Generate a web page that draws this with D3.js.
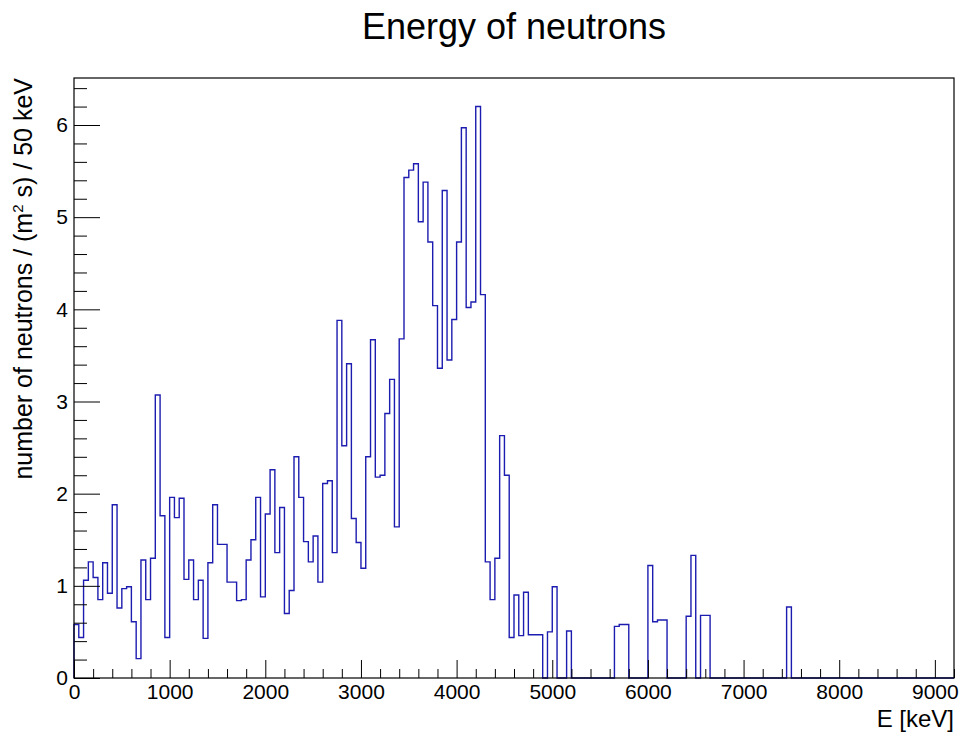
<!DOCTYPE html>
<html>
<head>
<meta charset="utf-8">
<script src="https://cdn.jsdelivr.net/npm/d3@7/dist/d3.min.js"></script>
<style>
  html, body { margin: 0; padding: 0; background: #ffffff; }
  svg { display: block; }
  text { font-family: "Liberation Sans", Arial, Helvetica, sans-serif; fill: #000; }
</style>
</head>
<body>
<svg id="chart" width="963" height="736"></svg>
<script>
// Neutron energy spectrum, 50 keV bins starting at 0 keV
const binWidth = 50;
const binCount = 184;
const counts = [
  0.58, 0.44, 1.06, 1.26, 1.09, 0.85, 1.25, 0.92, 1.88, 0.76,
  0.97, 0.99, 0.61, 0.21, 1.28, 0.85, 1.30, 3.07, 1.76, 0.44,
  1.96, 1.74, 1.95, 1.07, 1.28, 0.85, 1.06, 0.43, 1.25, 1.88,
  1.45, 1.45, 1.04, 1.04, 0.84, 0.85, 1.28, 1.50, 1.96, 0.88,
  1.78, 2.26, 1.36, 1.85, 0.70, 0.95, 2.40, 1.96, 1.48, 1.26,
  1.54, 1.04, 2.11, 2.14, 1.36, 3.88, 2.52, 3.41, 1.73, 1.47,
  1.19, 2.40, 3.67, 2.18, 2.20, 2.87, 3.24, 1.64, 3.68, 5.43,
  5.51, 5.58, 4.95, 5.38, 4.73, 4.04, 3.36, 5.29, 3.45, 3.89,
  4.73, 5.97, 4.02, 4.08, 6.20, 4.16, 1.26, 0.85, 1.30, 2.63,
  2.20, 0.44, 0.90, 0.46, 0.93, 0.47, 0.47, 0.47, 0.00, 0.50,
  0.99, 0.00, 0.00, 0.51, 0.00, 0.00, 0.00, 0.00, 0.00, 0.00,
  0.00, 0.00, 0.00, 0.56, 0.58, 0.58, 0.00, 0.00, 0.00, 0.00,
  1.22, 0.61, 0.63, 0.63, 0.00, 0.00, 0.00, 0.00, 0.67, 1.33,
  0.00, 0.68, 0.68, 0.00, 0.00, 0.00, 0.00, 0.00, 0.00, 0.00,
  0.00, 0.00, 0.00, 0.00, 0.00, 0.00, 0.00, 0.00, 0.00, 0.77,
  0.00, 0.00, 0.00, 0.00, 0.00, 0.00, 0.00, 0.00, 0.00, 0.00,
  0.00, 0.00, 0.00, 0.00, 0.00, 0.00, 0.00, 0.00, 0.00, 0.00,
  0.00, 0.00, 0.00, 0.00, 0.00, 0.00, 0.00, 0.00, 0.00, 0.00,
  0.00, 0.00, 0.00, 0.00
];

const xMajorTicks = [0, 1000, 2000, 3000, 4000, 5000, 6000, 7000, 8000, 9000];
const yMajorTicks = [0, 1, 2, 3, 4, 5, 6];
const xMinorStep = 200;
const yMinorStep = 0.2;

const titleText = "Energy of neutrons";
const xTitleText = "E [keV]";

const frame = { left: 74, right: 954, top: 78, bottom: 678 };
const xMax = binWidth * binCount;
const yMax = 6.51;

const svg = d3.select("#chart");

const x = d3.scaleLinear().domain([0, xMax]).range([frame.left, frame.right]);
const y = d3.scaleLinear().domain([0, yMax]).range([frame.bottom, frame.top]);

// histogram outline as a step path
const pts = counts.map((v, i) => [i * binWidth, v]);
pts.unshift([0, 0]);
pts.push([binCount * binWidth, 0]);
const step = d3.line()
  .x(d => x(d[0]))
  .y(d => y(d[1]))
  .curve(d3.curveStepAfter);

svg.append("path")
  .attr("d", step(pts))
  .attr("fill", "none")
  .attr("stroke", "#1c1cb0")
  .attr("stroke-width", 1.4);

// frame box drawn over the histogram
svg.append("rect")
  .attr("x", frame.left).attr("y", frame.top)
  .attr("width", frame.right - frame.left)
  .attr("height", frame.bottom - frame.top)
  .attr("fill", "none").attr("stroke", "#000").attr("stroke-width", 1.2);

// x axis: major and minor ticks pointing into the frame
const xMinor = d3.range(0, xMax + 1, xMinorStep).filter(v => v % 1000 !== 0);
const gxMinor = svg.append("g")
  .attr("transform", `translate(0,${frame.bottom})`)
  .call(d3.axisBottom(x).tickValues(xMinor).tickSize(-9).tickFormat(""));
const gx = svg.append("g")
  .attr("transform", `translate(0,${frame.bottom})`)
  .call(d3.axisBottom(x).tickValues(xMajorTicks).tickSize(-18).tickPadding(6)
    .tickFormat(d3.format("d")));

// y axis
const yMinor = d3.range(0, yMax, yMinorStep).map(v => +v.toFixed(1)).filter(v => Math.abs(v - Math.round(v)) > 1e-6);
const gyMinor = svg.append("g")
  .attr("transform", `translate(${frame.left},0)`)
  .call(d3.axisLeft(y).tickValues(yMinor).tickSize(-13).tickFormat(""));
const gy = svg.append("g")
  .attr("transform", `translate(${frame.left},0)`)
  .call(d3.axisLeft(y).tickValues(yMajorTicks).tickSize(-26).tickPadding(6)
    .tickFormat(d3.format("d")));

[gx, gxMinor, gy, gyMinor].forEach(g => {
  g.select(".domain").remove();
  g.selectAll(".tick line").attr("stroke", "#000").attr("stroke-width", 1);
  g.selectAll("text").attr("font-size", 21).attr("fill", "#000")
    .attr("font-family", "'Liberation Sans', Arial, Helvetica, sans-serif");
});

// titles
svg.append("text")
  .attr("x", 514).attr("y", 39)
  .attr("text-anchor", "middle")
  .attr("font-size", 36)
  .text(titleText);

svg.append("text")
  .attr("x", frame.right).attr("y", 727)
  .attr("text-anchor", "end")
  .attr("font-size", 24)
  .text(xTitleText);

const yTitle = svg.append("text")
  .attr("transform", `translate(32,${frame.top}) rotate(-90)`)
  .attr("text-anchor", "end")
  .attr("font-size", 25);
yTitle.append("tspan").text("number of neutrons / (m");
yTitle.append("tspan").attr("font-size", 15).attr("dy", -9).text("2");
yTitle.append("tspan").attr("dy", 9).text(" s) / 50 keV");
</script>
</body>
</html>
